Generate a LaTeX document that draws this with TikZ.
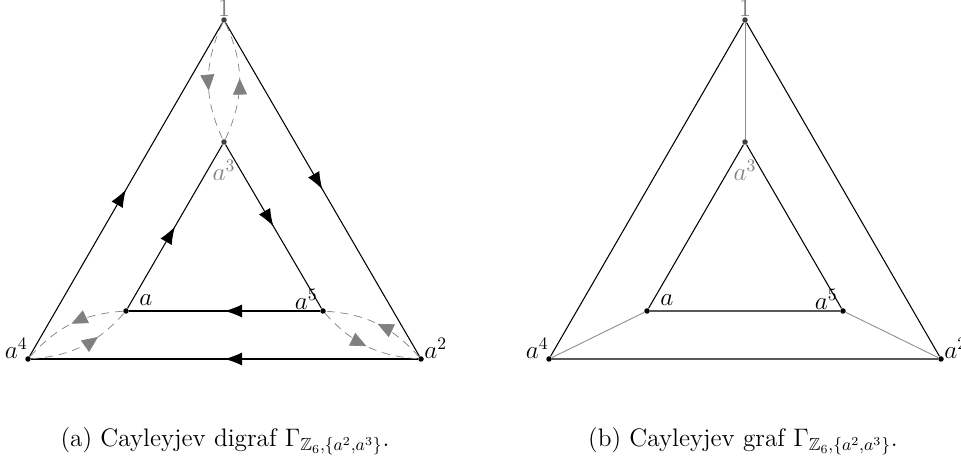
\documentclass[tikz,border=0pt]{standalone}
\usepackage{amsmath}
\usepackage{amssymb}
\usepackage{xcolor}
\usepackage{tikz}
\usetikzlibrary{arrows.meta, decorations.markings, positioning}

\begin{document}
\begin{tikzpicture}[vertex/.style={circle, fill=black, inner sep=0pt, minimum size=1.1mm},
			unit/.style={vertex, fill=black!75},
			lbl/.style={inner sep=0pt, font=\Large},
			edge/.style={line width=0.6pt, black},
			arc/.style={edge, postaction={decorate}, decoration={markings, mark=at position 0.5 with {\arrow{Latex[length=3.5mm,width=2.6mm]}}}},
			involution/.style={gray, line width=0.4pt, dash pattern=on 1.6mm off 1.2mm, postaction={decorate}, decoration={markings, mark=at position #1 with {\arrow{Triangle[length=3.2mm,width=2.8mm]}}}},
			light/.style={black!45, line width=0.5pt},
			caption/.style={font=\Large}
			]
			\useasboundingbox (0,0) rectangle (19.22,9.3);
			
			% (a) digraf
			\node [unit](g1) at (4.48,8.9) {};
			\node [unit](g3) at (4.48,6.46) {};
			\node [vertex](g4) at (0.56,2.12) {};
			\node [vertex](g2) at (8.42,2.12) {};
			\node [vertex](ga) at (2.52,3.08) {};
			\node [vertex](g5) at (6.46,3.08) {};
			
			\node [lbl, gray](lg1) [above=0mm of g1] {$1$};
			\node [lbl, gray](lg3) [below=3mm of g3] {$a^3$};
			\node [lbl, anchor=base east](lg4) at (g4) {$a^4$};
			\node [lbl, anchor=base west](lg2) at ([xshift=0.6mm]g2) {$a^2$};
			\node [lbl, anchor=base west](lga) at ([xshift=2.6mm, yshift=1mm]ga) {$a$};
			\node [lbl, anchor=base east](lg5) at ([xshift=-1mm, yshift=0.2mm]g5) {$a^5$};
			
			\draw[arc] (g4) -- (g1);
			\draw[arc] (g1) -- (g2);
			\draw[arc] (g2) -- (g4);
			
			\draw[arc] (ga) -- (g3);
			\draw[arc] (g3) -- (g5);
			\draw[arc] (g5) -- (ga);
			
			\draw[involution=0.58] (g1) to[bend right=25] (g3);
			\draw[involution=0.52] (g3) to[bend right=25] (g1);
			\draw[involution=0.5] (ga) to[bend right=22] (g4);
			\draw[involution=0.67] (g4) to[bend right=22] (ga);
			\draw[involution=0.5] (g2) to[bend right=22] (g5);
			\draw[involution=0.5] (g5) to[bend right=22] (g2);
			
			\node [caption](capa) at (4.5,0.48) {(a) Cayleyjev digraf $\Gamma_{\mathbb{Z}_6,\{a^2,a^3\}}$.};
			
			% (b) graf
			\node [unit](h1) at (14.9,8.9) {};
			\node [unit](h3) at (14.9,6.46) {};
			\node [vertex](h4) at (10.98,2.12) {};
			\node [vertex](h2) at (18.82,2.12) {};
			\node [vertex](ha) at (12.94,3.08) {};
			\node [vertex](h5) at (16.86,3.08) {};
			
			\node [lbl, gray](lh1) [above=0mm of h1] {$1$};
			\node [lbl, gray](lh3) [below=3mm of h3] {$a^3$};
			\node [lbl, anchor=base east](lh4) at (h4) {$a^4$};
			\node [lbl, anchor=base west](lh2) at ([xshift=0.6mm]h2) {$a^2$};
			\node [lbl, anchor=base west](lha) at ([xshift=2.6mm, yshift=1mm]ha) {$a$};
			\node [lbl, anchor=base east](lh5) at ([xshift=-1mm, yshift=0.2mm]h5) {$a^5$};
			
			\draw[edge] (h4) -- (h1) -- (h2) -- (h4);
			\draw[edge] (ha) -- (h3) -- (h5) -- (ha);
			
			\draw[light] (h1) -- (h3);
			\draw[light] (h4) -- (ha);
			\draw[light] (h2) -- (h5);
			
			\node [caption](capb) at (14.86,0.48) {(b) Cayleyjev graf $\Gamma_{\mathbb{Z}_6,\{a^2,a^3\}}$.};
		\end{tikzpicture}
\end{document}
